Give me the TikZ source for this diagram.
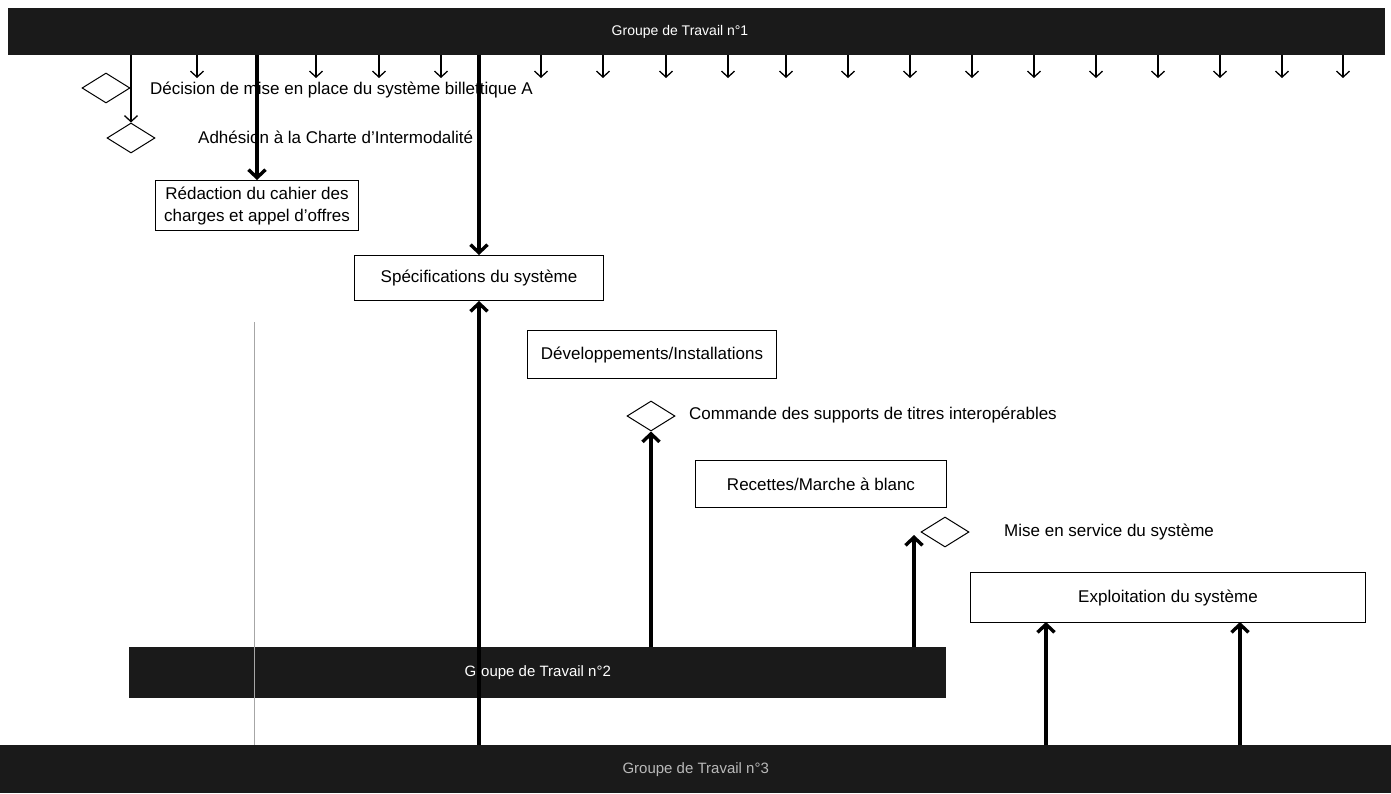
\documentclass[tikz,border=0pt]{standalone}
\usepackage{fontspec}
\setmainfont{Liberation Sans}
\usetikzlibrary{arrows.meta,shapes.geometric}
\definecolor{bardark}{RGB}{26,26,26}
\begin{document}
\begin{tikzpicture}[x=1pt,y=-1pt,
 every node/.style={font=\fontsize{17}{22}\selectfont},
 bar/.style={draw=none, fill=bardark, anchor=north west, inner sep=0, text=white, font=\fontsize{15}{18}\selectfont},
 task/.style={draw=black, line width=1pt, fill=white, anchor=north west, inner sep=0, align=center},
 milestone/.style={diamond, draw=black, line width=1pt, fill=white, inner sep=0, minimum width=48pt, minimum height=30pt},
 mtext/.style={anchor=west, inner sep=0},
 thinarrow/.style={line width=1.3pt, -{Straight Barb[length=6pt,width=13pt]}},
 thickarrow/.style={line width=3.4pt, -{Straight Barb[length=8pt,width=17pt]}},
 vline/.style={line width=1pt, draw=gray!70},
]
\useasboundingbox (0,0) rectangle (1391,793);
\fill[white] (0,0) rectangle (1391,793);

% bars
\node[bar, minimum width=1377pt, minimum height=47pt] (gt1) at (8,8) {};
\node[text=white, font=\fontsize{14}{17}\selectfont] (gt1t) at (680,32) {Groupe de Travail n°1};
\node[bar, minimum width=817pt, minimum height=51pt] (gt2) at (129,647) {Groupe de Travail n°2};
\node[bar, minimum width=1391pt, minimum height=48pt, text=gray!55] (gt3) at (0,745) {Groupe de Travail n°3};

% small arrows from GT1
\foreach \x [count=\i] in {197,316,379,441,541,603,666,728,786,848,910,972,1034,1096,1158,1220,1282,1343} {
  \coordinate (s\i) at (\x,78);
  \draw[thinarrow] (gt1.south -| s\i) -- (s\i);
}

% milestones
\node[milestone] (d1) at (106,88) {};
\node[milestone] (d2) at (131,138) {};
\node[milestone] (d3) at (651,416) {};
\node[milestone] (d4) at (945,532) {};
\node[mtext] (d1t) at (150,90) {Décision de mise en place du système billettique A};
\node[mtext] (d2t) at (198,137) {Adhésion à la Charte d'Intermodalité};
\node[mtext] (d3t) at (689,415) {Commande des supports de titres interopérables};
\node[mtext] (d4t) at (1004,532) {Mise en service du système};

% tasks
\node[task, minimum width=203pt, minimum height=50pt] (r) at (155,180) {Rédaction du cahier des\\charges et appel d'offres};
\node[task, minimum width=249pt, minimum height=45pt] (spec) at (354,255) {Spécifications du système};
\node[task, minimum width=249pt, minimum height=48pt] (dev) at (527,330) {Développements/Installations};
\node[task, minimum width=251pt, minimum height=47pt] (rec) at (695,460) {Recettes/Marche à blanc};
\node[task, minimum width=395pt, minimum height=50pt] (expl) at (970,572) {Exploitation du système};

% connectors
\draw[thinarrow] (gt1.south -| d2.north) -- (d2.north);
\draw[thickarrow] (gt1.south -| r.north) -- (r.north);
\draw[thickarrow] (gt1.south -| spec.north) -- (spec.north);
\draw[thickarrow] (gt3.north -| spec.south) -- (spec.south);
\draw[thickarrow] (gt2.north -| d3.south) -- (d3.south);
\coordinate (m4) at (914,535);
\draw[thickarrow] (gt2.north -| m4) -- (m4);
\coordinate (e1) at (1046,622);
\coordinate (e2) at (1240,622);
\draw[thickarrow] (gt3.north -| e1) -- (e1);
\draw[thickarrow] (gt3.north -| e2) -- (e2);
\coordinate (v1) at (254,322);
\draw[vline] (v1) -- (gt3.north -| v1);
\end{tikzpicture}
\end{document}
